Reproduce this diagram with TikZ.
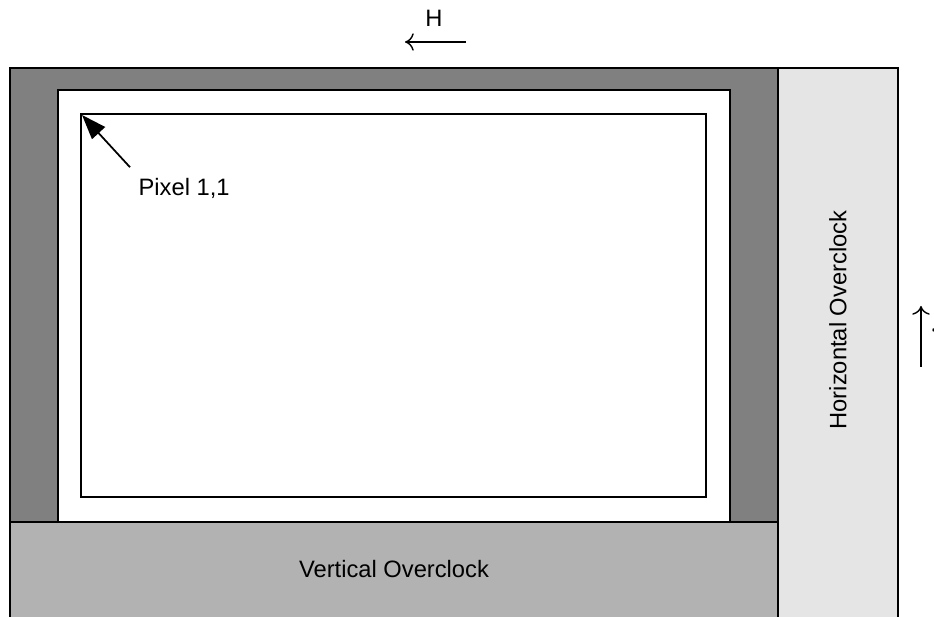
\documentclass[tikz,border=0pt]{standalone}
\usepackage{fontspec}
\setmainfont{Liberation Sans}
\usetikzlibrary{arrows.meta}
\definecolor{ccdark}{gray}{0.5}
\definecolor{vocl}{gray}{0.70}
\definecolor{hocl}{gray}{0.90}
\tikzset{lbl/.style={font=\fontsize{13.5}{16}\selectfont, inner sep=1pt}}
\begin{document}
\begin{tikzpicture}[x=0.02cm, y=-0.02cm, line width=1pt]
\useasboundingbox (0,0) rectangle (934,617);
\draw[fill=ccdark] (10,68) rectangle (778,522);
\draw[fill=white] (58,90) rectangle (730,522);
\draw[fill=white] (81,114) rectangle (706,497);
\draw[fill=vocl] (10,522) rectangle (778,630);
\draw[fill=hocl] (778,68) rectangle (898,630);
\coordinate (pix11) at (82,115);
\node[lbl, anchor=west] (pixlbl) at (136,188) {Pixel 1,1};
\node[lbl] (vlbl) at (394,569) {Vertical Overclock};
\node[lbl, rotate=90] (hlbl) at (838,320) {Horizontal Overclock};
\node[lbl] (hdir) at (434,18) {H};
\coordinate (h0) at (466,42);
\coordinate (h1) at (405,42);
\node[lbl, rotate=-90, anchor=south] (vdir) at (930,330) {V};
\coordinate (v0) at (921,367);
\coordinate (v1) at (921,306);
\draw[-{Triangle[length=14pt, width=10pt]}] (pixlbl.north west) ++(-6,-8) coordinate (p0) -- (pix11);
\draw[-{To[length=5pt, width=10pt]}, line width=0.8pt] (h0) -- (h1);
\draw[-{To[length=5pt, width=10pt]}, line width=0.8pt] (v0) -- (v1);
\end{tikzpicture}
\end{document}
